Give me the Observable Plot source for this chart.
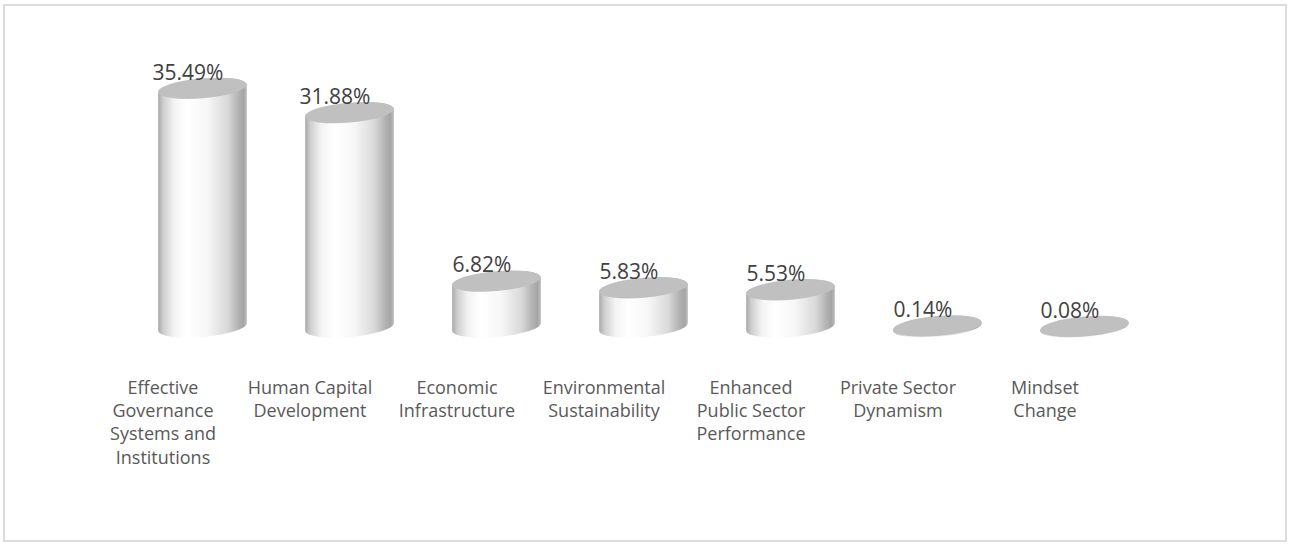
<!DOCTYPE html>
<html><head><meta charset="utf-8">
<script src="https://cdn.jsdelivr.net/npm/d3@7"></script>
<script src="https://cdn.jsdelivr.net/npm/@observablehq/plot@0.6"></script>
<style>
html,body{margin:0;padding:0;background:#fff;}
#wrap{position:relative;width:1289px;height:544px;overflow:hidden;background:#fff;}
#frame{position:absolute;left:3px;top:4px;width:1280px;height:534px;border:2px solid #dcdcdc;}
#chart{position:absolute;left:0;top:0;}
</style></head><body>
<div id="wrap"><div id="frame"></div><div id="chart"></div></div>
<script>
const categories = [
  "Effective Governance Systems and Institutions",
  "Human Capital Development",
  "Economic Infrastructure",
  "Environmental Sustainability",
  "Enhanced Public Sector Performance",
  "Private Sector Dynamism",
  "Mindset Change"
];
const values = [35.49, 31.88, 6.82, 5.83, 5.53, 0.14, 0.08];
const valueLabels = ["35.49%", "31.88%", "6.82%", "5.83%", "5.53%", "0.14%", "0.08%"];
const tickLabels = [
  "Effective\nGovernance\nSystems and\nInstitutions",
  "Human Capital\nDevelopment",
  "Economic\nInfrastructure",
  "Environmental\nSustainability",
  "Enhanced\nPublic Sector\nPerformance",
  "Private Sector\nDynamism",
  "Mindset\nChange"
];

const data = categories.map((c, i) => ({category: c, value: values[i], label: valueLabels[i]}));

function cylinders(index, scales, channels, dimensions, context) {
  const x = scales.x, y = scales.y;
  const bw = typeof x.bandwidth === "function" ? x.bandwidth() : 89;
  const rx = bw / 2, ry = 10, rot = -5;
  const th = rot * Math.PI / 180;
  const ex = rx * Math.cos(th), ey = rx * Math.sin(th);
  const g = d3.create("svg:g");
  const defs = g.append("defs");
  const grad = defs.append("linearGradient").attr("id", "cylBody")
    .attr("x1", 0).attr("x2", 1).attr("y1", 0).attr("y2", 0);
  [[0, "#a9a9a9"], [0.06, "#cfcfcf"], [0.18, "#f3f3f3"], [0.32, "#ffffff"], [0.55, "#f7f7f7"],
   [0.78, "#d9d9d9"], [0.9, "#b4b4b4"], [0.96, "#a5a5a5"], [1, "#bcbcbc"]]
    .forEach(([o, c]) => grad.append("stop").attr("offset", o).attr("stop-color", c));
  for (const i of index) {
    const d = data[i];
    const cx = x(d.category) + bw / 2;
    const y0 = y(0), y1 = y(d.value);
    const p = `M${cx - ex},${y1 - ey} L${cx - ex},${y0 - ey} A${rx},${ry} ${rot} 0 0 ${cx + ex},${y0 + ey} L${cx + ex},${y1 + ey} A${rx},${ry} ${rot} 0 0 ${cx - ex},${y1 - ey} Z`;
    g.append("path").attr("d", p).attr("fill", "url(#cylBody)");
    g.append("ellipse").attr("cx", cx).attr("cy", y1).attr("rx", rx).attr("ry", ry)
      .attr("transform", `rotate(${rot} ${cx} ${y1})`).attr("fill", "#c0c0c0");
  }
  return g.node();
}

const chart = Plot.plot({
  width: 1289,
  height: 544,
  marginLeft: 99,
  marginRight: 102,
  marginTop: 58,
  marginBottom: 217,
  style: {background: "transparent", fontFamily: "'Open Sans', sans-serif", overflow: "visible"},
  x: {domain: categories, padding: 0.395, axis: null},
  y: {domain: [0, 40], axis: null},
  marks: [
    Plot.barY(data, {x: "category", y: "value", render: cylinders}),
    Plot.text(data, {x: "category", y: "value", text: "label", dx: -15, dy: -16,
      fontSize: 21, fill: "#404040", fontFamily: "'Open Sans', sans-serif"}),
    Plot.axisX({tickSize: 0, tickPadding: 50, dx: -40, fontSize: 18, lineHeight: 1.29,
      fill: "#595959", fontFamily: "'Open Sans', sans-serif", label: null,
      tickFormat: d => tickLabels[categories.indexOf(d)]})
  ]
});
document.getElementById("chart").appendChild(chart);
</script>
</body></html>
